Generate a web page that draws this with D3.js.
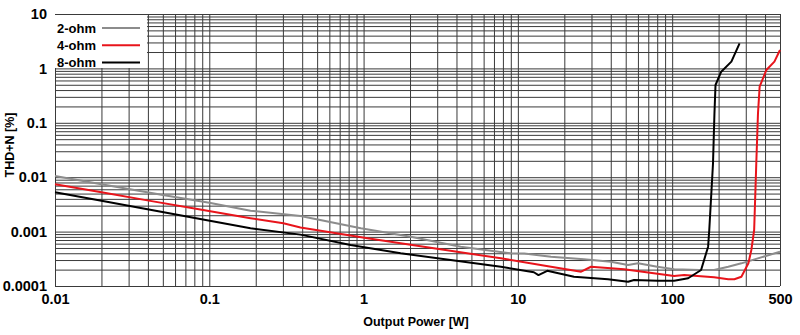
<!DOCTYPE html>
<html>
<head>
<meta charset="utf-8">
<script src="https://cdn.jsdelivr.net/npm/d3@7"></script>
<style>
  html, body { margin: 0; padding: 0; background: #fff; }
  svg { display: block; font-family: "Liberation Sans", Arial, sans-serif; font-weight: bold; }
</style>
</head>
<body>
<svg id="chart" width="800" height="335"></svg>
<script>
// THD+N versus output power for three load impedances
const seriesNames = ["2-ohm", "4-ohm", "8-ohm"];
const seriesColors = ["#8c8c8c", "#e8141b", "#000000"];

// [power W, THD+N %]
const ohm2 = [
  [0.01, 0.0105], [0.02, 0.0074], [0.05, 0.0047], [0.1, 0.0034], [0.185, 0.00242],
  [0.39, 0.00194], [0.96, 0.00115], [2.02, 0.000806], [4.26, 0.000528],
  [9.0, 0.000399], [11, 0.000395], [16.4, 0.000346], [26.8, 0.00031],
  [40, 0.00028], [51.8, 0.000243], [60.1, 0.000261], [80, 0.000225],
  [103, 0.000203], [150, 0.000197], [187, 0.000197], [231, 0.000226],
  [281, 0.000261], [500, 0.000427]
];
const ohm4 = [
  [0.01, 0.0074], [0.0196, 0.00532], [0.0414, 0.00367], [0.0874, 0.00254],
  [0.185, 0.00176], [0.302, 0.00142], [0.39, 0.00119], [1.06, 0.000753],
  [2.85, 0.000493], [7.76, 0.000323], [16.4, 0.000226], [25.7, 0.000183],
  [29.8, 0.000226], [48.8, 0.000203], [103, 0.000153], [119.7, 0.000159],
  [187, 0.000145], [231, 0.000133], [253, 0.000133], [281, 0.000148],
  [312, 0.000261], [326, 0.000459], [340, 0.00107], [351, 0.018],
  [360, 0.1495], [369, 0.461], [408, 0.935], [460, 1.33], [500, 2.18]
];
const ohm8 = [
  [0.01, 0.00528], [0.0196, 0.00372], [0.0414, 0.00252], [0.0874, 0.0017],
  [0.185, 0.00115], [0.39, 0.00088], [0.823, 0.000567], [1.74, 0.000399],
  [3.67, 0.0003], [7.76, 0.000226], [12.7, 0.000179], [13.6, 0.000159],
  [15.5, 0.00019], [23.1, 0.000148], [38.4, 0.000133], [51.8, 0.00012],
  [56.6, 0.000129], [81, 0.000125], [103, 0.000125], [127, 0.000139],
  [154, 0.000197], [171, 0.000528], [174, 0.00107], [184, 0.018],
  [188, 0.1495], [191, 0.4955], [208, 0.87], [242, 1.33], [273.5, 2.89]
];
const seriesData = [ohm2, ohm4, ohm8];

const xTicks = [0.01, 0.1, 1, 10, 100, 500];
const xTickLabels = ["0.01", "0.1", "1", "10", "100", "500"];
const yTicks = [0.0001, 0.001, 0.01, 0.1, 1, 10];
const yTickLabels = ["0.0001", "0.001", "0.01", "0.1", "1", "10"];

const svg = d3.select("#chart");
const plotLeft = 55, plotRight = 780, plotTop = 14, plotBottom = 286;

const x = d3.scaleLog().domain([0.01, 500]).range([plotLeft, plotRight]);
const y = d3.scaleLog().domain([0.0001, 10]).range([plotBottom, plotTop]);

// log grid values: 1..9 in every decade inside the domain
function logGrid(lo, hi) {
  const out = [];
  for (let e = Math.floor(Math.log10(lo)); e <= Math.ceil(Math.log10(hi)); e++) {
    for (let k = 1; k <= 9; k++) {
      const v = +(k * Math.pow(10, e)).toPrecision(6);
      if (v >= lo * 0.9999 && v <= hi * 1.0001) out.push(v);
    }
  }
  return out;
}
const xGrid = logGrid(0.01, 500);
const yGrid = logGrid(0.0001, 10);

const gridColor = "#3a3a3a";
const labelFont = "Liberation Sans, Arial, sans-serif";

// vertical grid
svg.append("g")
  .attr("transform", `translate(0,${plotBottom})`)
  .call(d3.axisBottom(x).tickValues(xGrid).tickSize(-(plotBottom - plotTop)).tickFormat(""))
  .call(g => g.select(".domain").remove())
  .call(g => g.selectAll("line").attr("stroke", gridColor).attr("stroke-width", 1));

// horizontal grid
svg.append("g")
  .attr("transform", `translate(${plotLeft},0)`)
  .call(d3.axisLeft(y).tickValues(yGrid).tickSize(-(plotRight - plotLeft)).tickFormat(""))
  .call(g => g.select(".domain").remove())
  .call(g => g.selectAll("line").attr("stroke", gridColor).attr("stroke-width", 1));

// tick labels
svg.append("g")
  .attr("transform", `translate(0,${plotBottom + 5})`)
  .call(d3.axisBottom(x).tickValues(xTicks).tickSize(0)
        .tickFormat((d, i) => xTickLabels[i]))
  .call(g => g.select(".domain").remove())
  .call(g => g.selectAll("text")
        .attr("fill", "#000").attr("font-size", 14.5).attr("font-weight", "bold")
        .attr("font-family", labelFont));

svg.append("g")
  .attr("transform", `translate(${plotLeft - 5},0)`)
  .call(d3.axisLeft(y).tickValues(yTicks).tickSize(0)
        .tickFormat((d, i) => yTickLabels[i]))
  .call(g => g.select(".domain").remove())
  .call(g => g.selectAll("text")
        .attr("fill", "#000").attr("font-size", 14.5).attr("font-weight", "bold")
        .attr("font-family", labelFont));

// axis titles
svg.append("text")
  .attr("x", 416).attr("y", 326)
  .attr("text-anchor", "middle").attr("font-size", 12.5)
  .text("Output Power [W]");
svg.append("text")
  .attr("transform", "translate(14,145) rotate(-90)")
  .attr("text-anchor", "middle").attr("font-size", 12.5)
  .text("THD+N [%]");

// curves
const line = d3.line().x(d => x(d[0])).y(d => y(d[1]));
const plot = svg.append("g");
seriesData.forEach((data, i) => {
  plot.append("path")
    .datum(data)
    .attr("fill", "none")
    .attr("stroke", seriesColors[i])
    .attr("stroke-width", 2)
    .attr("stroke-linejoin", "round")
    .attr("d", line);
});

// legend
const legend = svg.append("g");
legend.append("rect")
  .attr("x", plotLeft).attr("y", plotTop + 1)
  .attr("width", 92).attr("height", 53)
  .attr("fill", "#fff");
seriesNames.forEach((name, i) => {
  const cy = 28 + i * 17.3;
  legend.append("text")
    .attr("x", plotLeft + 2).attr("y", cy + 4.7)
    .attr("font-size", 13)
    .text(name);
  legend.append("line")
    .attr("x1", 102).attr("x2", 140)
    .attr("y1", cy).attr("y2", cy)
    .attr("stroke", seriesColors[i]).attr("stroke-width", 2);
});
</script>
</body>
</html>
